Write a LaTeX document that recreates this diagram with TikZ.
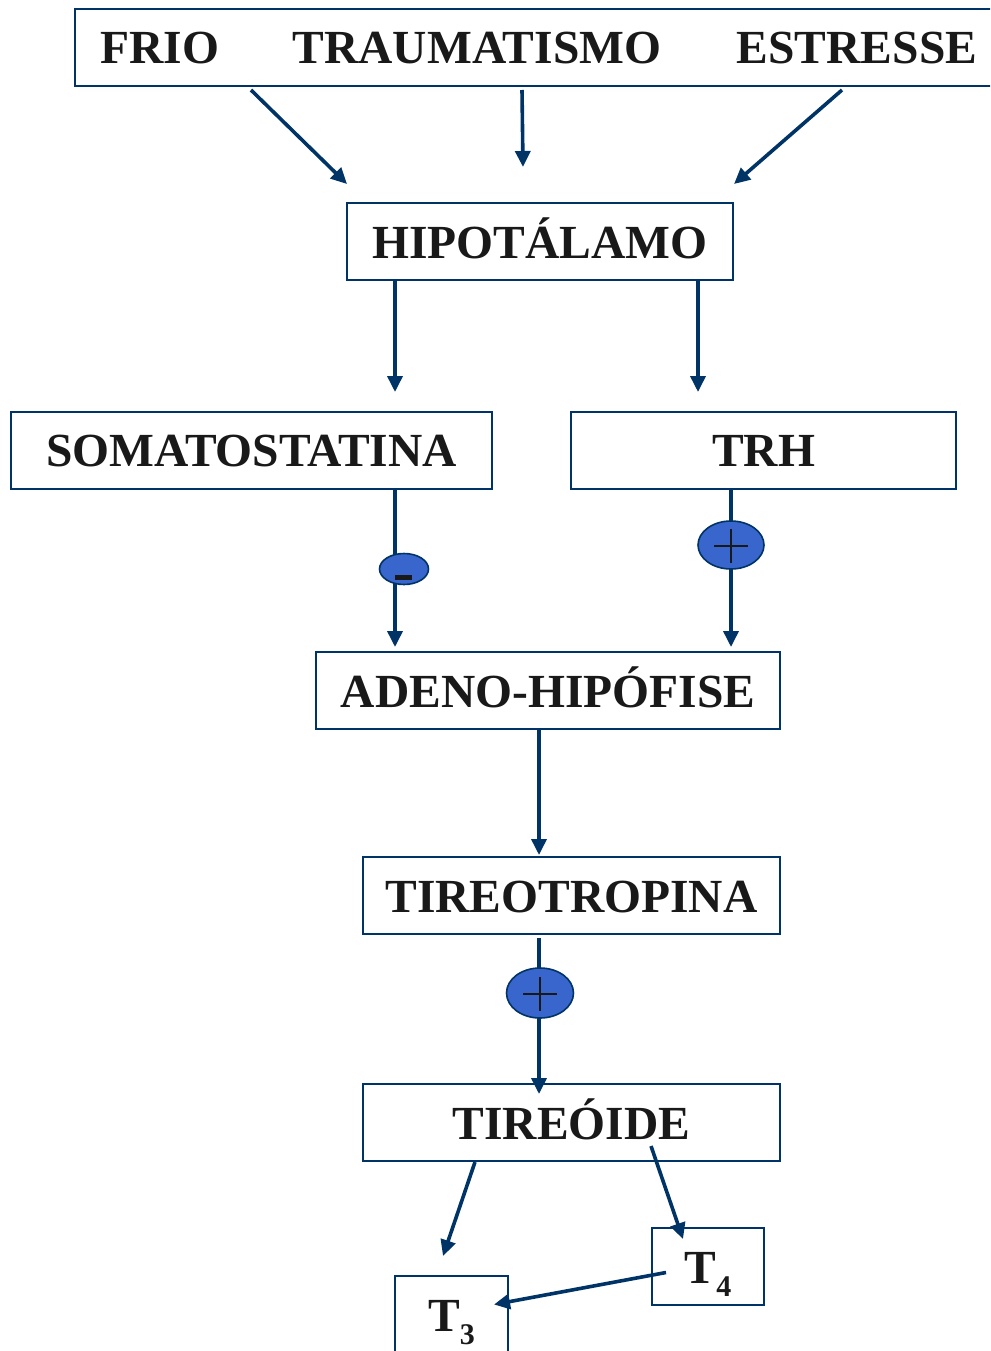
\documentclass[tikz,border=0pt]{standalone}
\usepackage{fontspec}
\setmainfont{Liberation Serif}
\usetikzlibrary{arrows.meta,calc,shapes.geometric}
\definecolor{marinho}{RGB}{0,51,102}
\definecolor{azulbola}{RGB}{56,102,204}
\newcommand{\Tsub}[1]{T\raisebox{-13pt}{\fontsize{30}{30}\selectfont #1}}
\begin{document}
\begin{tikzpicture}[x=1pt,y=-1pt,
	rotulo/.style={inner sep=0pt,text=black!90,font=\fontsize{47.5}{56}\selectfont\bfseries},
	caixa/.style={rotulo,draw=marinho,line width=2pt,text height=55pt,text depth=22pt,minimum height=77pt},
	seta/.style={draw=marinho,line width=3.6pt,-{Triangle[length=16pt,width=15pt]}},
	bola/.style={ellipse,draw=marinho,line width=1.6pt,fill=azulbola,inner sep=0pt},
	sinal/.style={draw=black!90,line width=1.8pt}]
		\useasboundingbox (0,0) rectangle (990,1351);
		\clip (0,0) rectangle (990,1351);
		% caixas
		\node[caixa, minimum width=925pt] (causas) at (537.5,47.5) {};
		\node[rotulo, anchor=base] (frio) at (160,64) {FRIO};
		\node[rotulo, anchor=base] (trauma) at (477,64) {TRAUMATISMO};
		\node[rotulo, anchor=base] (estresse) at (857,64) {ESTRESSE};
		\node[caixa, minimum width=386pt] (hipo) at (540,241.5) {HIPOTÁLAMO};
		\node[caixa, minimum width=481pt] (somat) at (251.5,450) {SOMATOSTATINA};
		\node[caixa, minimum width=385pt] (trh) at (763.5,450) {TRH};
		\node[caixa, minimum width=464pt] (adeno) at (548,690.5) {ADENO-HIPÓFISE};
		\node[caixa, minimum width=417pt] (tireotropina) at (571.5,895.5) {TIREOTROPINA};
		\node[caixa, minimum width=417pt] (tireoide) at (571.5,1122.5) {TIREÓIDE};
		\node[caixa, minimum width=112pt] (t4) at (708,1266.5) {\Tsub{4}};
		\node[caixa, minimum width=113pt] (t3) at (451.5,1314.5) {\Tsub{3}};
		\coordinate (p1) at (347,184);
		\coordinate (p2) at (523,167);
		\coordinate (p3) at (734,184);
		\coordinate (p4) at (443,1256);
		% setas
		\draw[seta] ($(causas.south west)+(177,3)$) -- (p1);
		\draw[seta] ($(causas.south west)+(448,3)$) -- (p2);
		\draw[seta] ($(causas.south west)+(768,3)$) -- (p3);
		\draw[seta] ($(hipo.south west)+(49,0)$) -- ++(0,111);
		\draw[seta] ($(hipo.south west)+(352,0)$) -- ++(0,111);
		\draw[seta] ($(somat.south west)+(385,0)$) -- ($(adeno.north west)+(80,-4)$);
		\draw[seta] ($(trh.south west)+(161,0)$) -- ($(adeno.north west)+(416,-4)$);
		\draw[seta] ($(adeno.south west)+(224,0)$) -- ($(tireotropina.north west)+(177,-1)$);
		\draw[seta] ($(tireotropina.south west)+(177,3)$) -- ($(tireoide.north west)+(177,11)$);
		\draw[seta] ($(tireoide.south west)+(113,0)$) -- (p4);
		\draw[seta] ($(tireoide.south west)+(289,-16)$) -- ($(t4.north west)+(32,12)$);
		\draw[seta] ($(t4.west)+(15,6)$) -- ($(t3.east)+(-15,-10)$);
		% sinais
		\node[bola, minimum width=49pt, minimum height=31pt] (menos) at (404,569) {};
		\fill[black!90] ($(menos)+(-9,6)$) rectangle ($(menos)+(8,11)$);
		\foreach \b/\x/\y/\w/\h in {mais1/731/545/66/48, mais2/540/993/67/50} {
			\node[bola, minimum width=\w pt, minimum height=\h pt] (\b) at (\x,\y) {};
			\draw[sinal] ($(\b)+(-17,1)$) -- +(34,0);
			\draw[sinal] ($(\b)+(0,-16)$) -- +(0,34);
		}
\end{tikzpicture}
\end{document}
